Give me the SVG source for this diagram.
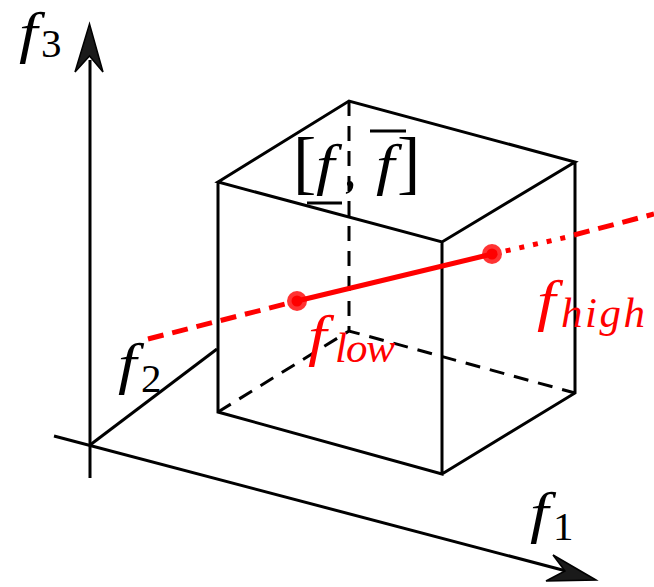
<svg xmlns="http://www.w3.org/2000/svg" width="654" height="587" viewBox="0 0 654 587">
<style>
.k{fill:none;stroke:#000;stroke-width:3}
.d{stroke-dasharray:15 10}
.r{fill:none;stroke:#f00;stroke-width:5}
.t{font-family:"Liberation Serif",serif;font-style:italic;font-size:58px;fill:#000}
.s{font-family:"Liberation Serif",serif;font-size:41px;fill:#000}
.sr{font-family:"Liberation Serif",serif;font-style:italic;font-size:43px;fill:#f00}
.b{font-family:"Liberation Serif",serif;font-size:70px;fill:#000}
.c{font-family:"Liberation Serif",serif;font-size:50px;fill:#000}
.h{fill:#1a1a1a;stroke:#000;stroke-width:1.500}
.red{fill:#f00}
</style>
<rect width="654" height="587" fill="#fff"/>
<g id="connectors">
<path class="k" d="M90 478V60"/>
<path class="h" d="M89.500 24L75 72L89.500 56L103 72Z"/>
<path class="k" d="M54 436L570 572"/>
<path class="h" d="M596 580L553 555L565 571L546 581Z"/>
<path class="k" d="M90 445L217 349"/>
</g>
<g id="box">
<path class="k" d="M218 182L349 101L575 162L442 242ZM218 182V412L442 474V242M442 474L575 393V162"/>
<path class="k d" d="M349 101V331M218 412L349 331L575 393"/>
</g>
<g id="segment">
<path class="r" stroke-dasharray="16 9" d="M148 339L297 301"/>
<path class="r" d="M297 301L492 254"/>
<path class="r" stroke-dasharray="5 9" d="M492 254L572 236"/>
<path class="r" stroke-dasharray="16 9" d="M574 235L654 214"/>
</g>
<g id="point-low"><circle cx="297" cy="301" r="10" fill="#f00" fill-opacity=".8"/><circle cx="297" cy="301" r="5.500" fill="#f00"/></g>
<g id="point-high"><circle cx="492" cy="254" r="10" fill="#f00" fill-opacity=".8"/><circle cx="492" cy="254" r="5.500" fill="#f00"/></g>
<g id="label-f3"><text class="t" transform="translate(19 52) scale(1.15 1)">f</text><text class="s" x="41" y="57">3</text></g>
<g id="label-f2"><text class="t" transform="translate(118 383) scale(1.15 1)">f</text><text class="s" x="141" y="392">2</text></g>
<g id="label-f1"><text class="t" transform="translate(530 532) scale(1.15 1)">f</text><text class="s" x="553" y="540">1</text></g>
<g id="label-interval">
<text class="b" x="293" y="186">[</text>
<text class="t" transform="translate(316 184) scale(1.15 1)">f</text>
<path class="k" d="M307 203H342"/>
<text class="c" x="344" y="186">,</text>
<path class="k" d="M370 131H406"/>
<text class="t" transform="translate(376 184) scale(1.15 1)">f</text>
<text class="b" x="397" y="186">]</text>
</g>
<g id="label-low"><text class="t red" transform="translate(308 355) scale(1.15 1)">f</text><text class="sr" x="335" y="362" textLength="60">low</text></g>
<g id="label-high"><text class="t red" transform="translate(537 320) scale(1.15 1)">f</text><text class="sr" x="561" y="327" textLength="84">high</text></g>
</svg>
